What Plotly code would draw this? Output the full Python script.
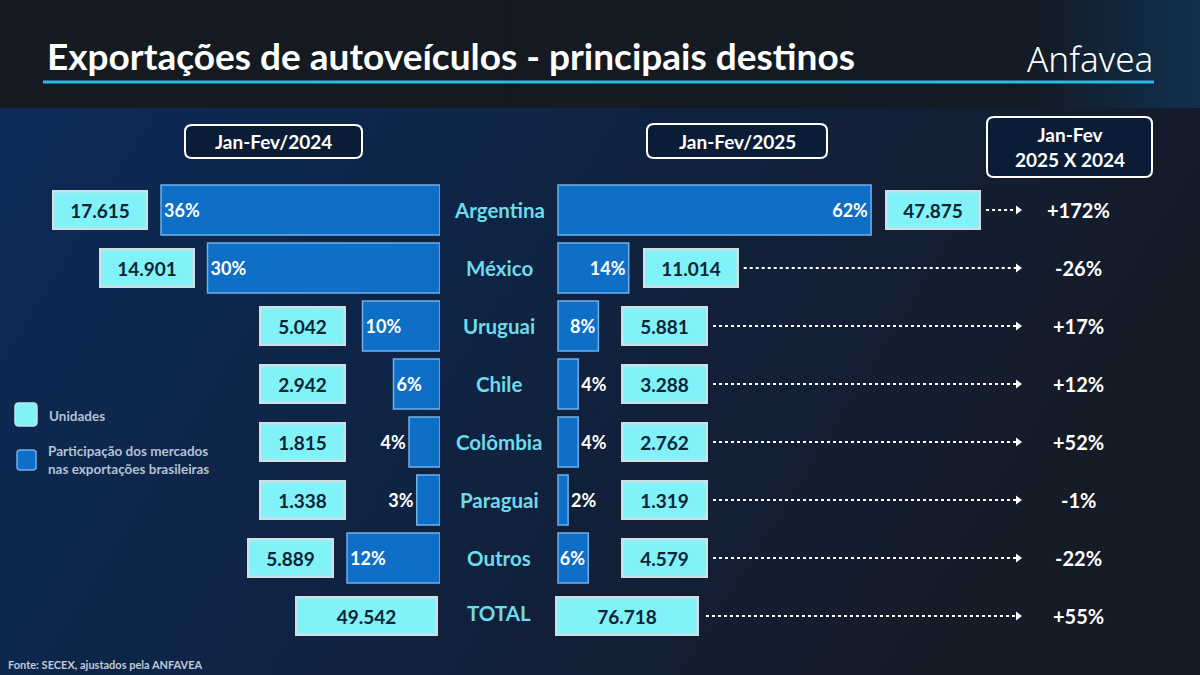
import base64
import plotly.graph_objects as go

# ---------------- data ----------------
countries = ["Argentina", "México", "Uruguai", "Chile", "Colômbia", "Paraguai", "Outros"]
units_2024 = [17615, 14901, 5042, 2942, 1815, 1338, 5889]
units_2025 = [47875, 11014, 5881, 3288, 2762, 1319, 4579]
share_2024 = [36, 30, 10, 6, 4, 3, 12]
share_2025 = [62, 14, 8, 4, 4, 2, 6]
total_2024 = 49542
total_2025 = 76718
growth_labels = ["+172%", "-26%", "+17%", "+12%", "+52%", "-1%", "-22%", "+55%"]
total_label = "TOTAL"
period_2024 = "Jan-Fev/2024"
period_2025 = "Jan-Fev/2025"
compare_label = "Jan-Fev<br>2025 X 2024"
title = "Exportações de autoveículos - principais destinos"
legend_units = "Unidades"
legend_share = "Participação dos mercados<br>nas exportações brasileiras"
source = "Fonte: SECEX, ajustados pela ANFAVEA"

# ---------------- geometry / style ----------------
W, H = 1200, 675
L_ORIG, L_SCALE = 440, 7.75      # px, px per %
R_ORIG, R_SCALE = 558, 5.05
R_DOM0 = 530                     # px where right axis domain starts
ROW0, STEP = 210, 58
FONT = "Lato"
BAR_FILL = "#0f6fc6"
BAR_LINE = "#6fb0ea"
BOX_FILL = "#80f2f8"
BOX_LINE = "#cfdfe6"
BOX_TEXT = "#0b2536"
LABEL_CYAN = "#6ddbeb"
ARROW_END_PX = 1018
VAL_SIZE = 19


def fmt(v):
    return f"{v:,}".replace(",", ".")


def px_x(px):
    return px / W


def px_y(py):
    return 1 - py / H


def rrect(x0, y0, x1, y1, r):
    def p(x, y):
        return f"{px_x(x):.5f},{px_y(y):.5f}"
    return (f"M{p(x0 + r, y0)} L{p(x1 - r, y0)} Q{p(x1, y0)} {p(x1, y0 + r)} "
            f"L{p(x1, y1 - r)} Q{p(x1, y1)} {p(x1 - r, y1)} L{p(x0 + r, y1)} "
            f"Q{p(x0, y1)} {p(x0, y1 - r)} L{p(x0, y0 + r)} Q{p(x0, y0)} {p(x0 + r, y0)} Z")


rows = list(range(len(countries)))
total_row = len(countries)

fig = go.Figure()

pct_font = dict(family=FONT, size=18, color="white", weight="bold")
# bars 2024 (left, reversed axis)
pos_2024 = ["inside" if s * L_SCALE >= 40 else "outside" for s in share_2024]
fig.add_trace(go.Bar(
    x=share_2024, y=rows, orientation="h", xaxis="x", yaxis="y", width=0.86,
    marker=dict(color=BAR_FILL, line=dict(color=BAR_LINE, width=1.5)),
    text=[f"{s}%" for s in share_2024], textposition=pos_2024, textangle=0,
    insidetextanchor="end", constraintext="none", cliponaxis=False,
    textfont=pct_font, hoverinfo="skip", showlegend=False,
))
# bars 2025 (right)
pos_2025 = ["inside" if s * R_SCALE >= 30 else "outside" for s in share_2025]
fig.add_trace(go.Bar(
    x=share_2025, y=rows, orientation="h", xaxis="x2", yaxis="y", width=0.86,
    marker=dict(color=BAR_FILL, line=dict(color=BAR_LINE, width=1.5)),
    text=[f"{s}%" for s in share_2025], textposition=pos_2025, textangle=0,
    insidetextanchor="end", constraintext="none", cliponaxis=False,
    textfont=pct_font, hoverinfo="skip", showlegend=False,
))

annotations = []
shapes = []

BOX_H = 33


def box_w(label):
    return 89 if len(label) >= 6 else 80


def val_box(text, x, y, xref, xanchor, width):
    return dict(
        x=x, y=y, xref=xref, yref="y", xanchor=xanchor, yanchor="middle",
        text=f"<b>{text}</b>", showarrow=False, width=width, height=BOX_H,
        bgcolor=BOX_FILL, bordercolor=BOX_LINE, borderwidth=2.5, borderpad=1,
        font=dict(family=FONT, size=VAL_SIZE, color=BOX_TEXT))


# value boxes + arrows
arrow_x, arrow_y = [], []
arrow_tip_x, arrow_tip_y = [], []
x2_end = (ARROW_END_PX - R_ORIG) / R_SCALE
for i in rows:
    lab24 = fmt(units_2024[i])
    xl = max(share_2024[i] + 13 / L_SCALE, (L_ORIG - 346) / L_SCALE)
    annotations.append(val_box(lab24, xl, i, "x", "right", box_w(lab24)))
    lab25 = fmt(units_2025[i])
    xr = max(share_2025[i] + 14 / R_SCALE, (621 - R_ORIG) / R_SCALE)
    annotations.append(val_box(lab25, xr, i, "x2", "left", box_w(lab25)))
    start = xr + (box_w(lab25) + 12) / R_SCALE
    arrow_x += [start, x2_end, None]
    arrow_y += [i, i, None]
    arrow_tip_x.append(x2_end)
    arrow_tip_y.append(i)

# totals
lab_t24, lab_t25 = fmt(total_2024), fmt(total_2025)
annotations.append(val_box(lab_t24, 0.26, total_row, "x", "right", 136))
xt = -0.6
annotations.append(val_box(lab_t25, xt, total_row, "x2", "left", 137))
arrow_x += [xt + (143 + 8) / R_SCALE, x2_end, None]
arrow_y += [total_row, total_row, None]
arrow_tip_x.append(x2_end)
arrow_tip_y.append(total_row)

fig.add_trace(go.Scatter(
    x=arrow_x, y=arrow_y, xaxis="x2", yaxis="y", mode="lines",
    line=dict(color="white", width=2.2, dash="dot"), hoverinfo="skip",
    showlegend=False, cliponaxis=False))
fig.add_trace(go.Scatter(
    x=arrow_tip_x, y=arrow_tip_y, xaxis="x2", yaxis="y", mode="markers",
    marker=dict(symbol="triangle-right", size=8, color="white"), hoverinfo="skip",
    showlegend=False, cliponaxis=False))

# country labels and growth
for i, c in enumerate(countries + [total_label]):
    annotations.append(dict(
        x=px_x(499), y=i - (0.05 if c == total_label else 0), xref="paper", yref="y",
        xanchor="center", yanchor="middle",
        text=f"<b>{c}</b>", showarrow=False,
        font=dict(family=FONT, size=20.5, color=LABEL_CYAN)))
    annotations.append(dict(
        x=px_x(1078), y=i, xref="paper", yref="y", xanchor="center", yanchor="middle",
        text=f"<b>{growth_labels[i]}</b>", showarrow=False,
        font=dict(family=FONT, size=20, color="white")))

# header boxes
for (x0, y0, x1, y1, txt, ty) in [
    (185, 125, 362, 158, period_2024, 141.5),
    (647, 124, 827, 158, period_2025, 141),
    (987, 117, 1152, 177, compare_label, 147),
]:
    shapes.append(dict(type="path", xref="paper", yref="paper", path=rrect(x0, y0, x1, y1, 7),
                       fillcolor="#0b1c36", line=dict(color="white", width=2), layer="above"))
    annotations.append(dict(
        x=px_x((x0 + x1) / 2), y=px_y(ty), xref="paper", yref="paper",
        xanchor="center", yanchor="middle", text=f"<b>{txt}</b>", showarrow=False,
        font=dict(family=FONT, size=19, color="white")))

# title
annotations.append(dict(
    x=px_x(45), y=px_y(56), xref="paper", yref="paper", xanchor="left", yanchor="middle",
    text=f"<b>{title}</b>", showarrow=False,
    font=dict(family=FONT, size=37, color="white")))
shapes.append(dict(type="line", xref="paper", yref="paper",
                   x0=px_x(43), x1=px_x(1154), y0=px_y(82), y1=px_y(82),
                   line=dict(color="#2fb8e2", width=3)))
# logo text
annotations.append(dict(
    x=px_x(1155), y=px_y(58), xref="paper", yref="paper", xanchor="right", yanchor="middle",
    text="Anfavea", showarrow=False,
    font=dict(family="Noto Sans", size=35, color="white", weight=300)))

# legend
shapes.append(dict(type="path", xref="paper", yref="paper", path=rrect(15, 403, 37, 426, 4),
                   fillcolor=BOX_FILL, line=dict(color=BOX_LINE, width=1.5)))
shapes.append(dict(type="path", xref="paper", yref="paper", path=rrect(17, 450, 36, 470, 3),
                   fillcolor=BAR_FILL, line=dict(color=BAR_LINE, width=1.5)))
annotations.append(dict(
    x=px_x(47), y=px_y(416), xref="paper", yref="paper", xanchor="left", yanchor="middle",
    text=f"<b>{legend_units}</b>", showarrow=False,
    font=dict(family=FONT, size=13.5, color="#b4c2d4")))
annotations.append(dict(
    x=px_x(46), y=px_y(460), xref="paper", yref="paper", xanchor="left", yanchor="middle",
    text=f"<b>{legend_share}</b>", showarrow=False, align="left",
    font=dict(family=FONT, size=13.5, color="#b4c2d4")))
# source
annotations.append(dict(
    x=px_x(6), y=px_y(664), xref="paper", yref="paper", xanchor="left", yanchor="middle",
    text=f"<b>{source}</b>", showarrow=False,
    font=dict(family=FONT, size=11, color="#c0cadb")))

# background image (gradient)
svg = (
    '<svg xmlns="http://www.w3.org/2000/svg" width="1200" height="675">'
    '<defs>'
    '<linearGradient id="g" x1="0" y1="0" x2="1" y2="0.35">'
    '<stop offset="0" stop-color="#0b2c59"/>'
    '<stop offset="0.45" stop-color="#0f2446"/>'
    '<stop offset="1" stop-color="#151b27"/>'
    '</linearGradient>'
    '<linearGradient id="t" x1="0" y1="0" x2="1" y2="0">'
    '<stop offset="0" stop-color="#161a21"/>'
    '<stop offset="0.85" stop-color="#141a23"/>'
    '<stop offset="1" stop-color="#10304f"/>'
    '</linearGradient>'
    '</defs>'
    '<rect width="1200" height="675" fill="url(#g)"/>'
    '<rect width="1200" height="108" fill="url(#t)"/>'
    '</svg>'
)
bg_src = "data:image/svg+xml;base64," + base64.b64encode(svg.encode()).decode()

y_top = -ROW0 / STEP
y_bot = (H - ROW0) / STEP

fig.update_layout(
    width=W, height=H, margin=dict(l=0, r=0, t=0, b=0),
    paper_bgcolor="#0f2446", plot_bgcolor="rgba(0,0,0,0)",
    barmode="overlay", showlegend=False,
    xaxis=dict(domain=[0, L_ORIG / W], range=[L_ORIG / L_SCALE, 0], visible=False, fixedrange=True),
    xaxis2=dict(domain=[R_DOM0 / W, 1],
                range=[(R_DOM0 - R_ORIG) / R_SCALE, (W - R_ORIG) / R_SCALE], visible=False,
                anchor="y", fixedrange=True),
    yaxis=dict(domain=[0, 1], range=[y_bot, y_top], visible=False, fixedrange=True),
    annotations=annotations, shapes=shapes,
    images=[dict(source=bg_src, xref="paper", yref="paper", x=0, y=1, sizex=1, sizey=1,
                 xanchor="left", yanchor="top", sizing="stretch", layer="below")],
    font=dict(family=FONT),
)

fig.write_html("out.html", config={"displayModeBar": False},
               post_script="document.body.style.margin='0';document.body.style.overflow='hidden';")
